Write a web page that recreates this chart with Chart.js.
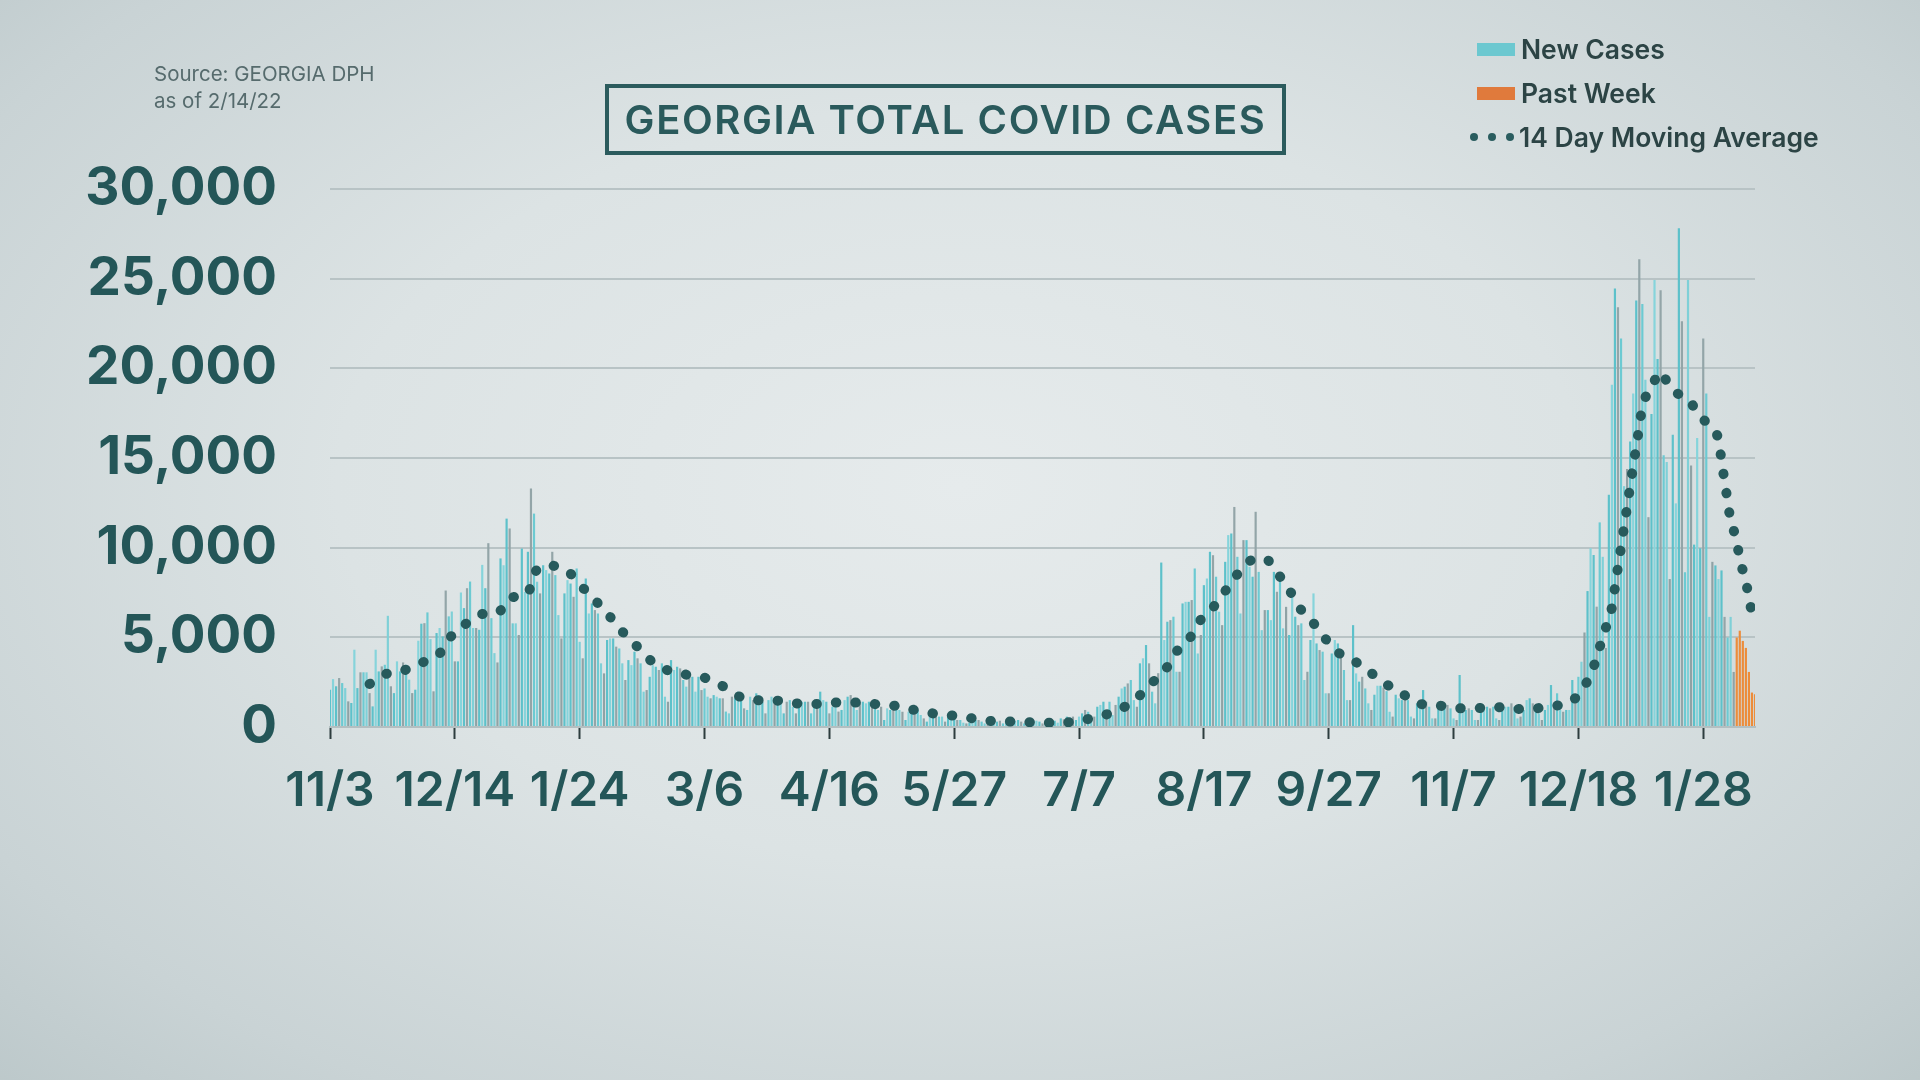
<!DOCTYPE html>
<html><head><meta charset="utf-8">
<script src="https://cdn.jsdelivr.net/npm/chart.js@4.4.1/dist/chart.umd.min.js"></script>
<style>
html,body{margin:0;padding:0;width:1920px;height:1080px;overflow:hidden;}
body{background:radial-gradient(ellipse 72% 78% at 50% 45%,#e6ebec 0%,#dce3e4 45%,#c9d3d5 82%,#bcc8ca 100%);font-family:Inter,'Noto Sans',sans-serif;}
#wrap{position:absolute;left:0;top:0;width:1920px;height:1080px;}
#title{position:absolute;left:605px;top:84px;width:681px;height:71px;box-sizing:border-box;border:4px solid #2b5b5d;color:#2a5a5c;font-weight:600;font-size:40px;display:flex;align-items:center;justify-content:center;letter-spacing:1.6px;}
#source{position:absolute;left:154px;top:60px;color:#566b6d;font-size:20.5px;line-height:27px;}
#legend{position:absolute;left:1472px;top:27px;color:#2c4445;font-weight:600;font-size:26.5px;}
.row{height:44px;display:flex;align-items:center;}
.sw{width:38px;height:13px;margin-left:5px;margin-right:6px;}
.dots{width:44px;display:flex;justify-content:space-between;margin-right:5px;padding-right:0;margin-left:-2px;}
.dots span{width:8px;height:8px;border-radius:50%;background:#2a5d5f;display:block;}
</style></head>
<body>
<div id="wrap"><canvas id="c" width="1920" height="1080"></canvas></div>
<div id="source">Source: GEORGIA DPH<br>as of 2/14/22</div>
<div id="title">GEORGIA TOTAL COVID CASES</div>
<div id="legend">
 <div class="row"><div class="sw" style="background:#6cc8d0"></div>New Cases</div>
 <div class="row"><div class="sw" style="background:#e07a3c"></div>Past Week</div>
 <div class="row"><div class="dots"><span></span><span></span><span></span></div>14 Day Moving Average</div>
</div>
<script>
// ---- data ----
const startDate = [2020, 10, 3]; // 11/3/2020 (month 0-based)
const tickLabels = ['11/3','12/14','1/24','3/6','4/16','5/27','7/7','8/17','9/27','11/7','12/18','1/28'];
const newCases = [
 2080,2670,2270,2730,2450,2170,1430,1340,4310,2170,
 3050,3050,3050,1890,1150,4310,3100,3380,3470,6200,
 2270,1890,3660,3100,3600,3470,2640,1890,2080,4810,
 5760,5790,6390,4900,1990,5240,5520,5050,7610,6170,
 6440,3660,3660,7500,6630,7740,8110,5520,5520,5420,
 9040,7740,10250,6070,4120,3600,
 9400,9020,11620,11070,5780,5780,5130,9950,7540,9770,
 13300,11900,8100,7450,9020,8750,8560,9770,8470,6240,
 4940,7450,8190,8000,7260,8840,4750,3830,8280,6330,
 6890,6520,6330,3550,2990,4850,4940,4940,4480,4380,
 3550,2620,3730,3450,4200,3830,3550,1970,2060,2800,
 3450,3360,3180,3550,1690,1410,
 3730,3180,3360,3270,2620,2250,3080,2800,1970,2800,
 2060,2150,1690,1600,1780,1690,1600,1600,860,760,
 1690,1600,1970,1880,1040,950,1690,1500,1880,1780,
 1410,760,1500,1690,1600,1500,1320,760,1410,1500,
 1130,760,1410,1410,1410,1410,760,1230,1410,1970,
 1500,1410,760,1130,1230,860,
 950,1500,1690,1780,1130,950,1410,1410,1320,1410,
 1320,1130,950,1130,390,1040,950,1130,1130,950,
 850,390,850,1040,1040,950,670,480,300,760,
 670,670,580,580,300,610,580,480,390,390,
 240,200,240,480,390,390,300,200,300,390,
 350,300,350,200,300,390,300,350,390,300,
 200,430,300,350,350,300,200,300,300,390,
 350,240,480,430,580,540,580,390,580,760,
 950,850,
 390,580,1130,1230,1410,850,1410,670,1230,1690,
 2150,2250,2430,2620,1500,1130,3550,3830,4570,3550,
 1970,1320,3000,9170,4850,5870,5960,6150,3080,3080,
 6890,6980,6980,7080,8840,4100,5130,7910,8280,9770,
 9580,8380,6430,5680,9210,10700,10790,12270,9490,6330,
 10420,10420,8930,8380,12000,8650,5400,6520,6520,5960,
 8650,7540,8190,5500,6700,5130,7260,6150,5680,5780,
 2620,3080,4850,7450,4660,4290,4200,1880,1880,4100,
 4850,4660,3920,3180,1500,1500,
 5680,2990,2530,2800,2150,1320,950,1800,2300,2300,
 2200,2000,850,580,1800,1600,1500,1700,1500,580,
 480,1320,1410,2060,1410,1130,480,480,1230,950,
 1230,1230,1040,480,390,2900,1130,950,1040,950,
 390,390,1130,950,1130,1040,1130,480,390,1230,
 1130,1130,1320,1130,480,580,
 950,1500,1600,1320,1200,760,390,950,1230,2340,
 1130,1880,950,850,950,950,2620,1410,2800,
 3640,5270,7580,9970,9590,6710,11410,9490,4410,12950,
 19080,24450,23400,21670,13430,14390,15920,18600,23780,26080,
 23590,19370,11700,17450,24930,20520,24360,15150,14770,8250,
 16300,12470,27810,22630,8630,24930,14580,10170,16110,9970,
 21670,18600,6140,9210,9010,8250,8730,6140,4990,6140,
 3070
];
const pastWeek = [4990,5370,4800,4410,3070,1920,1820];
const maDays = [13,19,25,31,36,40,45,50,55,59,65,67,72,78,82,86,91,95,100,104,109,116,122,128,134,140,147,153,160,166,173,180,186,193,200,206,213,220,226,233,240,246,253,259,265,269,274,277,282,285,289,293,297,301,307,311,315,318,322,326,330,336,341,346,351,357,363,370,376,382,389,396,402,408,412,415,417,419,421,422,423,424,425,426,427,428,429,430,431,434,437,440,443,446,449,453,456,457,458,459,460,462,463,465,466,468];
const maValues = [2400,3000,3200,3650,4100,5100,5800,6300,6350,7200,7450,8550,9000,8700,7950,7250,6350,5500,4650,3900,3300,2950,2800,2380,1730,1500,1470,1320,1280,1360,1360,1260,1170,910,710,610,430,300,300,240,240,350,610,950,1600,2340,3080,4010,4850,5780,6450,7350,8280,9150,9400,8600,7670,6740,6000,5130,4290,3720,3140,2470,2020,1320,1230,1040,1040,1130,1000,1040,1170,1470,2280,3360,4450,5530,6660,7770,8920,10010,11160,12280,13430,14540,15630,16740,17840,18930,19800,18930,18550,18320,17550,16780,16020,14860,13710,12620,11510,10400,9300,8190,7100,5980];

// ---- build ----
const nDays = newCases.length + pastWeek.length;
const labels = [];
for (let i = 0; i < nDays; i++) {
  const dt = new Date(Date.UTC(startDate[0], startDate[1], startDate[2] + i));
  labels.push((dt.getUTCMonth()+1) + '/' + dt.getUTCDate() + '/' + String(dt.getUTCFullYear()).slice(2));
}
const newData = newCases.concat(pastWeek.map(() => null));
const pastData = newCases.map(() => null).concat(pastWeek);
const barPalette = ['#5dc1ca','#86d4db','#5dc1ca','#93a5a8','#6ccad2','#7fd0d7','#8fa2a5'];
const maPoints = maDays.map((d, i) => ({x: d, y: maValues[i]}));
const TXT = '#245658';

new Chart(document.getElementById('c'), {
  data: {
    labels: labels,
    datasets: [
      {type:'line', label:'14 Day Moving Average', data: maPoints, xAxisID:'x2', order:0,
       borderColor:'#275a5c', borderWidth:10, borderDash:[0.5,19], borderCapStyle:'round',
       pointRadius:0, fill:false, cubicInterpolationMode:'monotone'},
      {type:'bar', label:'New Cases', data: newData, order:2, grouped:false,
       backgroundColor: newData.map((v,i) => barPalette[i % barPalette.length]),
       barPercentage:0.72, categoryPercentage:1.0},
      {type:'bar', label:'Past Week', data: pastData, order:1, grouped:false,
       backgroundColor:'#ec8c3a', barPercentage:0.72, categoryPercentage:1.0}
    ]
  },
  options: {
    responsive:false, animation:false,
    layout:{padding:{left:60, right:165, top:189, bottom:243}},
    plugins:{legend:{display:false}, tooltip:{enabled:false}},
    scales:{
      x:{type:'category', offset:false,
         grid:{offset:false, drawOnChartArea:false, drawTicks:true, tickLength:12, tickColor:'#2d3d3e', tickWidth:2},
         border:{display:true, color:'#b3bfc1', width:2},
         afterFit:(s)=>{s.height = 110;},
         afterBuildTicks:(s)=>{s.ticks = tickLabels.map((t,i)=>({value:i*41}));},
         ticks:{autoSkip:false, maxRotation:0, padding:24, color:TXT,
                font:{family:'Inter', size:48, weight:'600'},
                callback:(v,i)=>tickLabels[i]}},
      x2:{type:'linear', min:0, max:nDays-1, display:false},
      y:{min:0, max:30000,
         afterFit:(s)=>{s.width = 270;},
         grid:{color:'#b8c3c5', lineWidth:2, drawTicks:false},
         border:{display:false},
         ticks:{stepSize:5000, padding:53, color:TXT,
                font:{family:'Inter', size:53, weight:'700'},
                callback:(v)=>v.toLocaleString('en-US')}}
    }
  }
});
</script>
</body></html>
